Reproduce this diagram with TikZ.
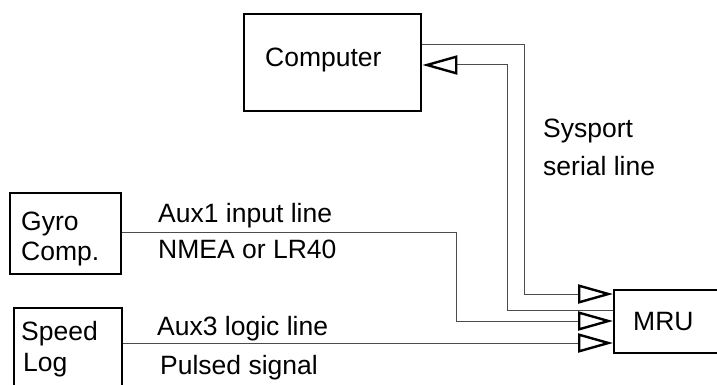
\documentclass[tikz,border=0pt]{standalone}
\usepackage{fontspec}
\setmainfont{Liberation Sans}
\usetikzlibrary{arrows.meta}
\tikzset{
  box/.style={draw=black, line width=2.4pt, rectangle, inner sep=0pt},
  lbl/.style={inner sep=0pt, anchor=base west, font=\fontsize{26.5}{30}\selectfont},
  conn/.style={draw=black!70, line width=1pt},
  otri/.tip={Triangle[open, length=35pt, width=19pt, line width=2.4pt, color=black]}
}
\begin{document}
\begin{tikzpicture}[x=1pt, y=-1pt]
\useasboundingbox (0,0) rectangle (717,385);
\clip (0,0) rectangle (717,385);
% boxes
\node[box, anchor=north west, minimum width=177pt, minimum height=97pt] (comp) at (243,13) {};
\node[box, anchor=north west, minimum width=111pt, minimum height=81pt] (gyro) at (9,192) {};
\node[box, anchor=north west, minimum width=108pt, minimum height=95pt] (speed) at (13,307) {};
\node[box, anchor=north west, minimum width=115pt, minimum height=63pt] (mru) at (613,289) {};
% labels
\node[lbl] (tcomp) at (265,67) {Computer};
\node[lbl] (tmru) at (633,330) {MRU};
\node[lbl] (tgyro1) at (21,230) {Gyro};
\node[lbl] (tgyro2) at (21,260) {Comp.};
\node[lbl] (tspeed1) at (21,340) {Speed};
\node[lbl] (tspeed2) at (23,371) {Log};
\node[lbl] (tsys1) at (543,137) {Sysport};
\node[lbl] (tsys2) at (543,175) {serial line};
\node[lbl] (taux1) at (158,222) {Aux1 input line};
\node[lbl] (tnmea) at (158,258) {NMEA or LR40};
\node[lbl] (taux3) at (157,335) {Aux3 logic line};
\node[lbl] (tpuls) at (160,374) {Pulsed signal};
% connectors
\draw[conn, -otri] (comp.east |- 0,45) -| (524,294) -- (mru.west |- 0,294);
\draw[conn, -otri] (mru.west |- 0,310) -| (507,65) -- (comp.east |- 0,65);
\draw[conn, -otri] (gyro.east |- 0,232) -| (456,321) -- (mru.west |- 0,321);
\draw[conn, -otri] (speed.east |- 0,343) -- (mru.west |- 0,343);
\end{tikzpicture}
\end{document}
